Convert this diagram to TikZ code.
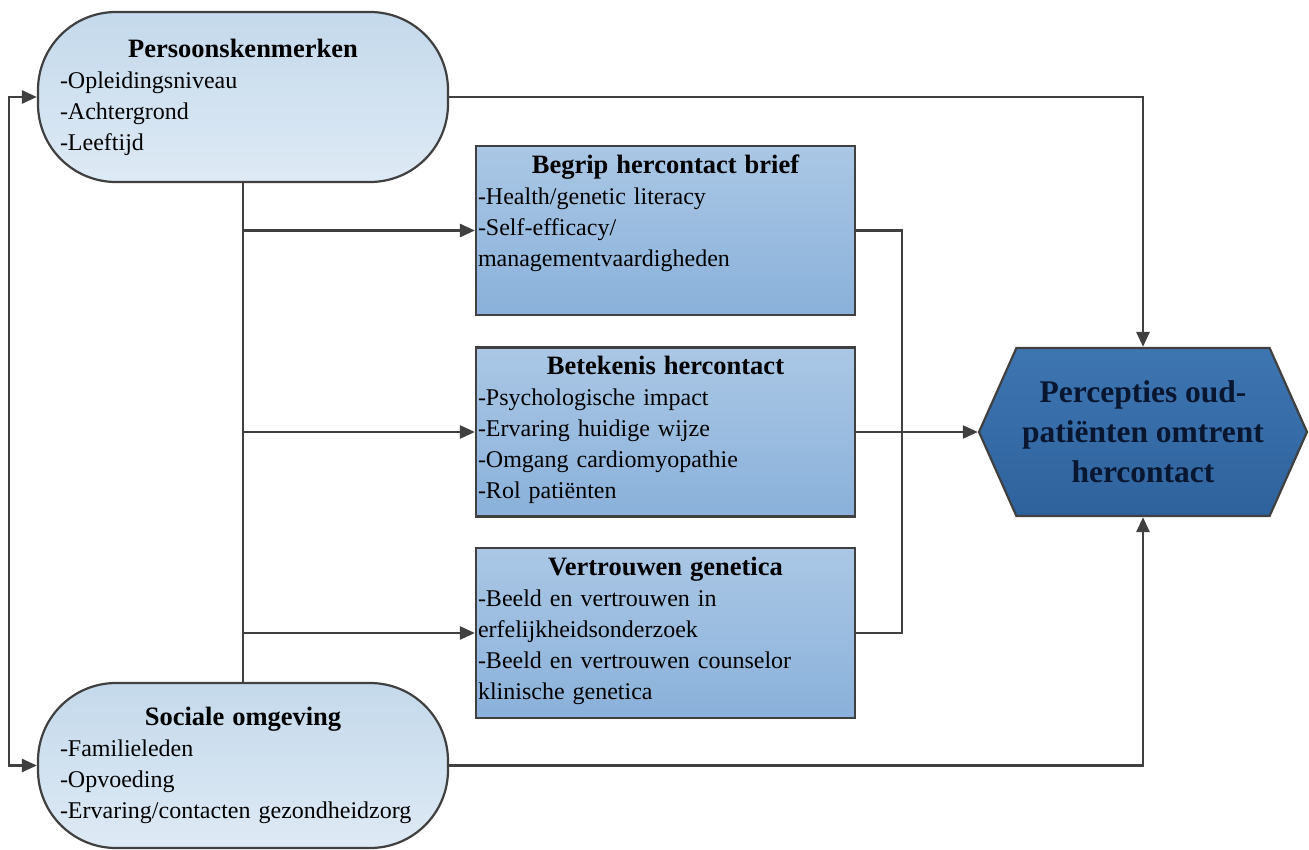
\documentclass[tikz,border=0pt]{standalone}
\usepackage{fontspec}
\setmainfont{Liberation Serif}
\usetikzlibrary{arrows.meta,shapes.symbols}

\definecolor{donker}{RGB}{64,64,64}
\definecolor{lichtboven}{RGB}{196,217,235}
\definecolor{lichtonder}{RGB}{222,234,245}
\definecolor{middenboven}{RGB}{170,199,229}
\definecolor{middenonder}{RGB}{138,177,218}
\definecolor{doelboven}{RGB}{62,118,178}
\definecolor{doelonder}{RGB}{46,98,156}
\definecolor{doeltekst}{RGB}{8,22,48}

\newcommand{\kop}[1]{{\centering\fontsize{26.5}{32}\selectfont\bfseries #1\par}}

\begin{document}
\begin{tikzpicture}[x=1pt,y=-1pt,
    lijn/.style={draw=donker, line width=2.6pt},
    pijl/.style={lijn, -{Triangle[length=15pt,width=13pt]}},
    stadion/.style={rectangle, rounded corners=78pt, draw=donker, line width=2.2pt,
      top color=lichtboven, bottom color=lichtonder, minimum width=410pt,
      text width=366pt, inner xsep=22pt, inner ysep=0pt, align=left,
      font=\fontsize{24}{31}\selectfont},
    kader/.style={rectangle, draw=donker, line width=2.2pt,
      top color=middenboven, bottom color=middenonder,
      text width=375pt, inner xsep=2pt, inner ysep=3pt, align=left,
      text height=24pt, text depth=139pt, font=\fontsize{24}{31}\selectfont},
    doel/.style={signal, signal to=west and east, signal pointer angle=132,
      draw=donker, line width=2.2pt, top color=doelboven, bottom color=doelonder,
      minimum width=328pt, minimum height=168pt, align=center, text=doeltekst,
      font=\fontsize{31.5}{40}\selectfont\bfseries}]
  \useasboundingbox (0,0) rectangle (1309,849);

  %links
  \node[stadion, minimum height=170pt] (pers) at (243,97)
    {\kop{Persoonskenmerken}-Opleidingsniveau\\-Achtergrond\\-Leeftijd};
  \node[stadion, minimum height=165pt] (sociaal) at (243,765.5)
    {\kop{Sociale omgeving}-Familieleden\\-Opvoeding\\-Ervaring/contacten gezondheidzorg};

  %midden
  \node[kader] (begrip) at (665.5,230.5)
    {\kop{Begrip hercontact brief}-Health/genetic literacy\\-Self-efficacy/\\managementvaardigheden};
  \node[kader] (betekenis) at (665.5,432)
    {\kop{Betekenis hercontact}-Psychologische impact\\-Ervaring huidige wijze\\-Omgang cardiomyopathie\\-Rol patiënten};
  \node[kader, text depth=140pt] (vertrouwen) at (665.5,633)
    {\kop{Vertrouwen genetica}-Beeld en vertrouwen in\\erfelijkheidsonderzoek\\-Beeld en vertrouwen counselor\\klinische genetica};

  %rechts
  \node[doel] (percepties) at (1143,432) {Percepties oud-\\patiënten omtrent\\hercontact};

  %lijnen
  \draw[lijn] (pers.south) -- (sociaal.north);
  \draw[pijl] (pers.south |- begrip.west) -- (begrip.west);
  \draw[pijl] (pers.south |- betekenis.west) -- (betekenis.west);
  \draw[pijl] (pers.south |- vertrouwen.west) -- (vertrouwen.west);
  \draw[lijn] (begrip.east) -- ++(46,0) |- (vertrouwen.east);
  \draw[pijl] (betekenis.east) -- (percepties.west);
  \draw[pijl] (pers.east) -| (percepties.north);
  \draw[pijl] (sociaal.east) -| (percepties.south);
  \draw[pijl, {Triangle[length=15pt,width=13pt]}-{Triangle[length=15pt,width=13pt]}]
    (pers.west) -- ++(-28,0) |- (sociaal.west);
\end{tikzpicture}
\end{document}
